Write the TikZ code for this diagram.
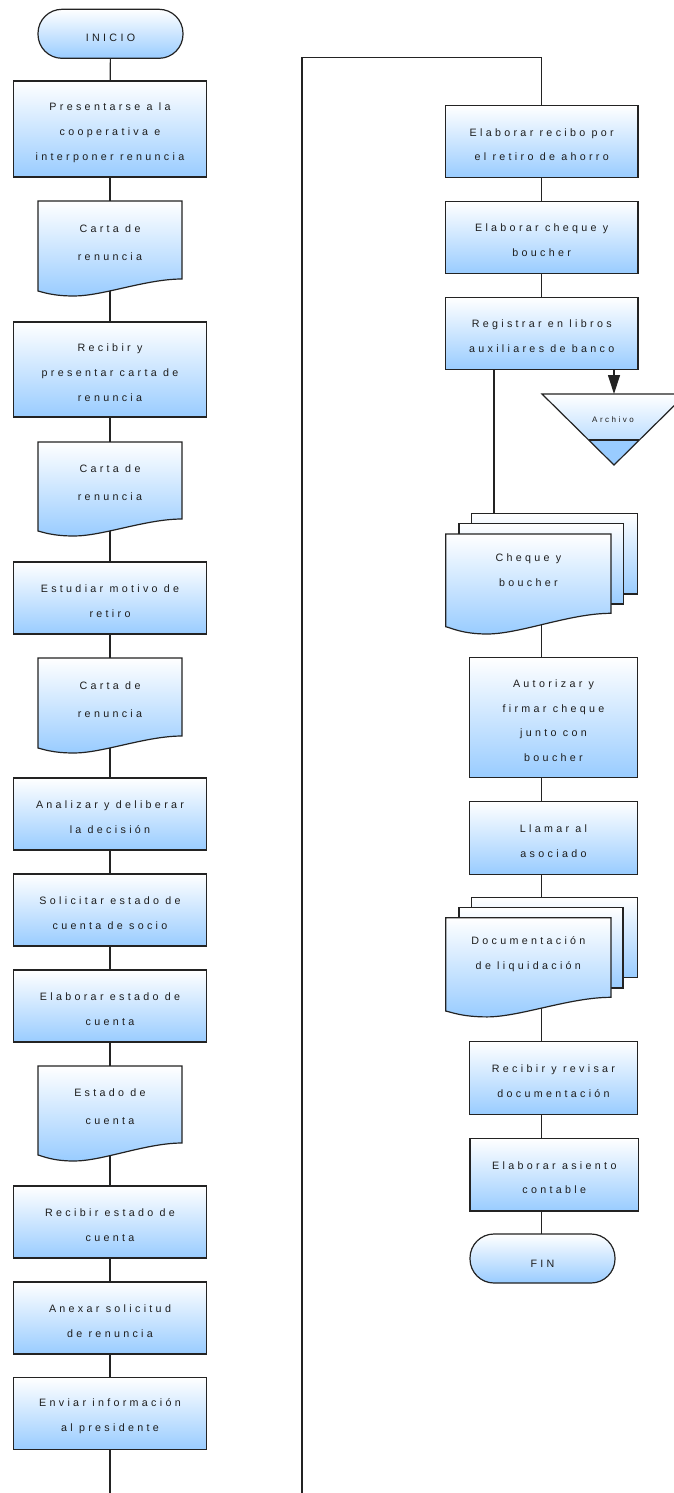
\documentclass[tikz,border=0pt]{standalone}
\usepackage{fontspec}
\setmainfont{Liberation Sans}[LetterSpace=31]
\usetikzlibrary{arrows.meta,backgrounds}

\definecolor{lblue}{RGB}{153,204,255}
\definecolor{edge}{RGB}{35,35,35}
\definecolor{ink}{RGB}{30,30,30}

\newcommand{\boxfont}{\fontsize{10.7}{24.8}\selectfont}
\newcommand{\docfont}{\fontsize{10.7}{27.7}\selectfont}
\newcommand{\smallboxfont}{\fontsize{8}{10}\selectfont}

\tikzset{
  edgeline/.style={draw=edge, line width=1.2pt},
  gradfill/.style={edgeline, top color=white, bottom color=lblue},
  procbox/.style={gradfill, rectangle, inner sep=0pt, minimum height=72pt},
  leftbox/.style={procbox, minimum width=192.4pt},
  rightbox/.style={procbox, minimum width=168.4pt},
  boxtext/.style={inner sep=0pt, align=center, font=\boxfont, text=ink},
  terminal/.style={gradfill, rounded corners=24pt, minimum width=145pt,
    minimum height=49pt, inner sep=0pt},
  doctext/.style={boxtext},
  flow/.style={draw=edge, line width=1.2pt},
}

% box with its caption set slightly below the middle
% #1 box options, #2 name, #3 centre, #4 text, #5 caption drop
\newcommand{\proc}[5][]{%
  \node[#1] (#2) at (#3) {};
  \node[boxtext] (#2-txt) at ([yshift=-#5]#2.center) {#4};
}

% document sheet with wavy bottom edge, plus its named text node
% #1 text options, #2 name, #3 left x, #4 top y, #5 width,
% #6 height at right side, #7 extra drop at left corner,
% #8 drop of the wave trough, #9 text
\newcommand{\docsheet}[9][]{%
  \path[gradfill] (#3,#4) -- (#3+#5,#4) -- (#3+#5,#4+#6)
    .. controls (#3+0.75*#5,#4+#6) and (#3+0.45*#5,#4+#6+#8) .. (#3+0.25*#5,#4+#6+#8)
    .. controls (#3+0.1*#5,#4+#6+#8) and (#3+0.03*#5,#4+#6+#7+1) .. (#3,#4+#6+#7) -- cycle;
  \node[doctext,#1] (#2) at (#3+0.5*#5,#4+0.5*#6) {#9};
}

\begin{document}
\begin{tikzpicture}[x=1pt, y=-1pt]
\path[use as bounding box] (0,0) rectangle (673,1493);
\begin{scope}[on background layer]
  \fill[white] (0,0) rectangle (673,1493);
\end{scope}

% ---------- left column ----------
\proc[terminal]{inicio}{110.5,33.8}{INICIO}{4.5pt}
\proc[leftbox, minimum height=96pt]{presentarse}{110,129}
  {Presentarse a la\\cooperativa e\\interponer renuncia}{4pt}
\docsheet[yshift=-2.5pt, font=\docfont]{carta1}{38}{201}{144}{78}{12}{17}{Carta de\\renuncia}
\proc[leftbox, minimum height=95pt]{recibir}{110,369.5}
  {Recibir y\\presentar carta de\\renuncia}{3pt}
\docsheet[yshift=-2.5pt, font=\docfont]{carta2}{38}{442}{144}{77}{12}{17}{Carta de\\renuncia}
\proc[leftbox]{estudiar}{110,598}{Estudiar motivo de\\retiro}{3pt}
\docsheet[yshift=-2.5pt, font=\docfont]{carta3}{38}{658}{144}{78}{12}{17}{Carta de\\renuncia}
\proc[leftbox]{analizar}{110,814}{Analizar y deliberar\\la decisión}{3pt}
\proc[leftbox]{solicitar}{110,910}{Solicitar estado de\\cuenta de socio}{3pt}
\proc[leftbox]{elabestado}{110,1006}{Elaborar estado de\\cuenta}{3pt}
\docsheet[yshift=-2pt, font=\docfont]{estadodoc}{38}{1066}{144}{77}{12}{18}{Estado de\\cuenta}
\proc[leftbox]{recibirest}{110,1222}{Recibir estado de\\cuenta}{3pt}
\proc[leftbox]{anexar}{110,1318}{Anexar solicitud\\de renuncia}{3pt}
\proc[leftbox]{enviar}{110,1413.5}{Enviar información\\al presidente}{3pt}
\coordinate (loopout) at (110,1496);

% ---------- right column ----------
\coordinate (loopin) at (302,1496);
\coordinate (looptop) at (302,57.3);
\coordinate (rspine) at (541.7,0);
\coordinate (rbranch) at (494,0);

\proc[leftbox]{recibo}{541.7,141.7}{Elaborar recibo por\\el retiro de ahorro}{3pt}
\proc[leftbox]{chequebox}{541.7,237.5}{Elaborar cheque y\\boucher}{3pt}
\proc[leftbox]{registrar}{541.7,333.5}{Registrar en libros\\auxiliares de banco}{3pt}

% file symbol (inverted triangle)
\coordinate (archtop) at (614,394);
\path[top color=white, bottom color=lblue] (542,394) -- (686,394) -- (614,465) -- cycle;
\fill[lblue] (588.65,440) -- (639.35,440) -- (614,465) -- cycle;
\draw[edgeline] (588.65,440) -- (639.35,440);
\draw[edgeline] (542,394) -- (686,394) -- (614,465) -- cycle;
\node[inner sep=0pt, font=\smallboxfont, text=ink] (archivo) at (613,419.5) {Archivo};
\draw[flow, -{Triangle[length=19pt,width=12pt]}] (registrar.south -| archtop) -- (archtop);

% stacked cheque documents
\path[gradfill] (471.7,513.3) rectangle (637.7,594);
\path[gradfill] (459,523.3) rectangle (623.3,604);
\docsheet[yshift=3.5pt]{chequedoc}{445.7}{534}{165.3}{79.3}{13.4}{20.7}{Cheque y\\boucher}

\proc[rightbox, minimum height=120pt]{autorizar}{553.5,717.7}
  {Autorizar y\\firmar cheque\\junto con\\boucher}{3pt}
\proc[rightbox, minimum height=72.6pt]{llamar}{553.5,838}{Llamar al\\asociado}{3pt}

% stacked settlement documents
\path[gradfill] (471.7,897.3) rectangle (637.7,977.7);
\path[gradfill] (459,907.7) rectangle (623,988);
\docsheet[yshift=3pt]{liqdoc}{445.7}{917.7}{165.3}{79.6}{13.7}{19.6}{Documentación\\de liquidación}

\proc[rightbox, minimum height=72.6pt]{revisar}{553.5,1078}{Recibir y revisar\\documentación}{3pt}
\proc[rightbox, minimum height=72.7pt, minimum width=168.7pt]{asiento}{554.3,1174.7}
  {Elaborar asiento\\contable}{3pt}
\proc[terminal]{fin}{542.5,1258.5}{FIN}{5pt}

% ---------- connectors ----------
\begin{scope}[on background layer]
  \foreach \a/\b in {inicio/presentarse, presentarse/carta1, carta1/recibir,
      recibir/carta2, carta2/estudiar, estudiar/carta3, carta3/analizar,
      analizar/solicitar, solicitar/elabestado, elabestado/estadodoc,
      estadodoc/recibirest, recibirest/anexar, anexar/enviar, enviar/loopout,
      recibo/chequebox, chequebox/registrar}
    \draw[flow] (\a.center) -- (\b.center);
  \draw[flow] (loopin) -- (looptop) -| (recibo.center);
  \draw[flow] (rbranch |- registrar.center) -- (rbranch |- chequedoc.center);
  \foreach \a/\b in {chequedoc/autorizar, autorizar/llamar, llamar/liqdoc,
      liqdoc/revisar, revisar/asiento, asiento/fin}
    \draw[flow] (rspine |- \a.center) -- (rspine |- \b.center);
\end{scope}
\end{tikzpicture}
\end{document}
